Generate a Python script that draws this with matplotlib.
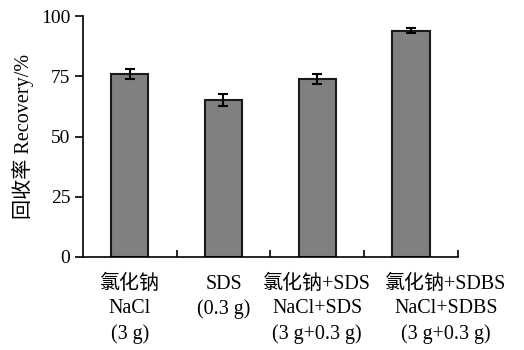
import numpy as np
import matplotlib
matplotlib.use("Agg")
import matplotlib.pyplot as plt
import matplotlib.transforms as mtransforms

plt.rcParams['font.family'] = ['Liberation Serif', 'Noto Sans CJK SC']

# data
labels = [
    "氯化钠\nNaCl\n(3 g)",
    "SDS\n(0.3 g)\n",
    "氯化钠+SDS\nNaCl+SDS\n(3 g+0.3 g)",
    "氯化钠+SDBS\nNaCl+SDBS\n(3 g+0.3 g)",
]
recovery = [76, 65, 74, 94]
err = [2.0, 2.5, 2.0, 1.2]
yticks = [0, 25, 50, 75, 100]

fig = plt.figure(figsize=(5.24, 3.5), dpi=100)
ax = fig.add_axes([0.158, 0.266, 0.716, 0.688])

x = np.arange(len(recovery))
ax.bar(x, recovery, width=0.4, color="#808080", edgecolor="#1a1a1a", linewidth=1.5,
       yerr=err, capsize=3.5, error_kw=dict(ecolor="black", elinewidth=1.5, capthick=1.5))

ax.set_xlim(-0.5, 3.5)
ax.set_ylim(0, 100)
ax.set_yticks(yticks)
ax.tick_params(axis="y", direction="out", length=6, width=1.2, labelsize=14, pad=3)

ax.set_xticks(x)
ax.set_xticklabels(labels, fontsize=14.4, linespacing=1.38, va="top")
ax.tick_params(axis="x", which="major", length=0, pad=13)
ax.set_xticks(x + 0.5, minor=True)
ax.tick_params(axis="x", which="minor", direction="in", length=5, width=1.2)

# last label sits further right in the original so it does not collide
last = ax.get_xticklabels()[-1]
last.set_transform(last.get_transform() +
                   mtransforms.ScaledTranslation(0.35, 0, fig.dpi_scale_trans))

ax.spines["top"].set_visible(False)
ax.spines["right"].set_visible(False)
ax.spines["left"].set_linewidth(1.2)
ax.spines["bottom"].set_linewidth(1.2)

ax.set_ylabel("回收率 Recovery/%", fontsize=14.5, labelpad=5)

fig.savefig("out.png", dpi=100)
